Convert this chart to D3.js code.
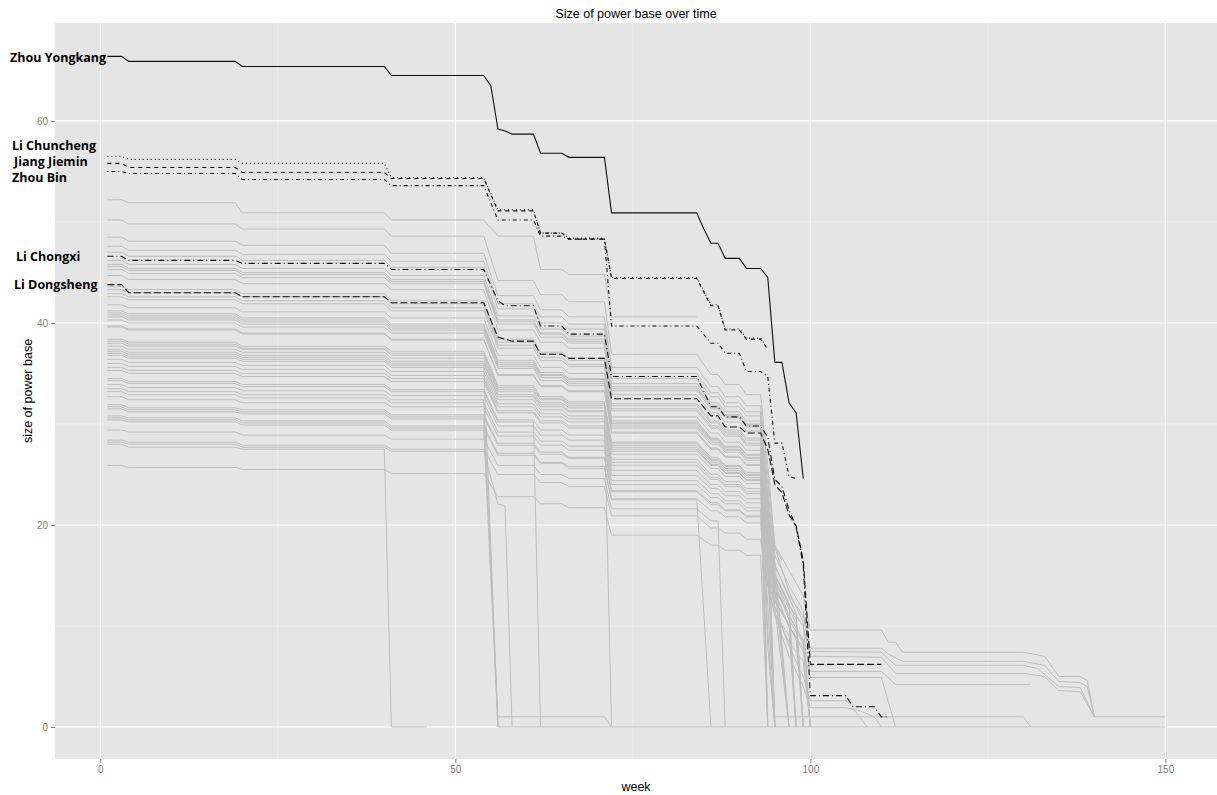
<!DOCTYPE html>
<html>
<head>
<meta charset="utf-8">
<script src="https://cdn.jsdelivr.net/npm/d3@7"></script>
<style>
  body { margin: 0; background: #fff; }
  svg text { font-family: "Liberation Sans", Arial, sans-serif; }
</style>
</head>
<body>
<div id="chart"></div>
<script>
// ---- data ----
const xTicks = [0, 50, 100, 150];
const yTicks = [0, 20, 40, 60];
const xMinor = [25, 75, 125];
const yMinor = [10, 30, 50];

// weeks of the flat stretches shared by most series
const plateauWeeks = [[1,3],[4,19],[20,40],[41,54],[56,61],[62,65],[66,71],[72,84],[86,87],[88,90],[91,93]];

// grey series: p = value on each plateau, t = [week, value] after the last plateau
const grayLines = [
  {p:[52.2,51.9,50.9,50.2,48.6,45.3,44.8,40.6], t:[]},
  {p:[50.2,49.8,49.3,48.6,44.2,42.8,42.1,36.9,34.9,33.9,32.9], t:[[94,26],[95,18],[97,15.5],[99,13],[100,9.6],[110,9.6],[111,8.4],[112,8.4],[113,7.4],[130,7.4],[133,7.0],[135,5.0],[138,5.0],[139,4.6],[140,1.0],[150,1.0]]},
  {p:[48.5,48.1,47.7,46.9,42.7,41.3,40.6,35.6,33.7,32.7,31.8], t:[[94,25],[95,17],[97,14],[99,11.5],[100,7.8],[110,7.8],[111,7.2],[113,6.5],[130,6.5],[133,6.1],[135,4.5],[138,4.4],[139,4.0],[140,1.0]]},
  {p:[47.6,47.2,46.8,46.1,41.9,40.6,39.9,35.0,33.1,32.1,31.2], t:[[94,0]]},
  {p:[47.0,46.6,46.2,45.5,41.4,40.0,39.4,34.5,32.7,31.7,30.8], t:[[94,24],[95,16],[97,13],[99,11],[100,7.5],[110,7.4],[112,6.1],[130,6.1],[132,5.8],[135,4.0],[138,3.9],[140,1.0]]},
  {p:[46.2,45.8,45.4,44.7,40.7,39.4,38.7,34.0,32.1,31.2,30.3], t:[[94,22.7],[95,0]]},
  {p:[45.8,45.4,45.0,44.3,40.3,39.0,38.4,33.7,31.8,30.9,30.0], t:[[94,23],[95,15],[97,12],[99,10],[100,7.0],[110,6.9],[112,5.3],[130,5.3],[133,5.0],[135,3.6],[138,3.5],[140,1.0]]},
  {p:[45.6,45.2,44.8,44.1,40.1,38.9,38.2,33.5,31.7,30.8,29.9], t:[[94,20.9],[95,16.4],[97,0]]},
  {p:[45.3,44.9,44.5,43.9,39.9,38.6,38.0,33.3,31.5,30.6,29.7], t:[[94,22.3],[95,17.8],[97,13.4],[99,10.4],[100,0]]},
  {p:[44.7,44.3,43.9,43.3,39.3,38.1,37.5,32.9,31.1,30.2,29.3], t:[[94,22],[95,14],[97,11],[99,8.5],[100,5.5],[110,5.5],[112,4.2],[131,4.2]]},
  {p:[43.6,43.3,42.9,42.2,38.4,37.1,36.5,32.0,30.3,29.4,28.6], t:[[94,21.5],[95,0]]},
  {p:[43.3,43.0,42.6,41.9,38.1,36.9,36.3,31.8,30.1,29.2,28.4], t:[[94,21],[95,13],[97,10],[99,7.5],[100,4.9],[110,4.9],[112,0]]},
  {p:[42.9,42.6,42.2,41.5,37.8,36.6,35.9,31.5,29.8,29.0,28.1], t:[[94,9.5],[95,0]]},
  {p:[42.6,42.3,41.9,41.2,37.5,36.3,35.7,31.3,29.6,28.8,27.9], t:[[94,20],[95,12],[97,8],[99,5],[100,2.6],[105,2.6],[106,1.9],[108,0]]},
  {p:[41.8,41.5,41.1,40.5,36.8,35.6,35.0,30.7,29.1,28.2,27.4], t:[[94,19.2],[95,15.1],[97,12.3],[98,0]]},
  {p:[41.2,40.9,40.5,39.9,36.3,35.1,34.5,30.3,28.6,27.8,27.0], t:[[94,19],[95,11],[97,7],[99,4],[100,1.9],[105,1.9],[107,1.6],[109,1.0],[110,0]]},
  {p:[41.0,40.7,40.3,39.7,36.1,34.9,34.4,30.1,28.5,27.7,26.9], t:[[94,18.8],[95,14.8],[97,0]]},
  {p:[40.8,40.5,40.1,39.5,35.9,34.8,34.2,30.0,28.4,27.5,26.7], t:[[94,0]]},
  {p:[40.6,40.3,39.9,39.3,35.7,34.6,34.0,29.8,28.2,27.4,26.6], t:[[94,20.0],[95,16.0],[97,12.8],[98,11.2],[99,0]]},
  {p:[40.3,40.0,39.6,39.0,35.5,34.3,33.8,29.6,28.0,27.2,26.4], t:[[94,12],[95,1.0],[130,1.0],[131,0]]},
  {p:[39.7,39.4,39.0,38.4,34.9,33.8,33.3,29.2,27.6,26.8,26.0], t:[[94,0]]},
  {p:[39.6,39.3,38.9,38.3,34.8,33.7,33.2,29.1,27.5,26.7,25.9], t:[[94,19.4],[95,0]]},
  {p:[38.4,38.1,37.7,37.2,33.8,32.7,32.2,28.2,26.7,25.9,25.2], t:[[94,18.9],[95,15.1],[97,12.1],[98,10.6],[99,0]]},
  {p:[38.2,37.9,37.5,37.0,33.6,32.5,32.0,28.1,26.5,25.8,25.0], t:[[94,19.0],[96,16.5]]},
  {p:[38.0,37.7,37.4,36.8,33.4,32.4,31.8,27.9,26.4,25.6,24.9], t:[[94,17.4],[95,13.7],[97,0]]},
  {p:[37.7,37.4,37.1,36.5,33.2,32.1,31.6,27.7,26.2,25.4,24.7], t:[[94,17.3],[95,13.6],[97,11.1],[98,0]]},
  {p:[37.4,37.1,36.8,36.2,32.9,31.9,31.3,27.5,26.0,25.2,24.5], t:[[94,18.4],[95,14.7],[97,11.0],[99,8.6],[100,0]]},
  {p:[37.2,36.9,36.6,36.0,32.7,31.7,31.2,27.3,25.9,25.1,24.4], t:[[94,18.3],[95,14.6],[97,11.7],[98,10.2],[99,0]]},
  {p:[37.0,36.7,36.4,35.8], t:[[56,0]]},
  {p:[36.8,36.5,36.2,35.6,32.4,31.4,30.8,27.0,25.6,24.8,24.1], t:[[94,8.0],[95,0]]},
  {p:[36.4,36.1,35.8,35.2,32.0,31.0,30.5], t:[[72,0]]},
  {p:[36.0,35.7,35.4,34.8,31.7,30.7,30.2,26.5,25.0,24.3,23.6], t:[[94,17.7],[95,14.2],[97,10.6],[99,8.3],[100,0]]},
  {p:[35.6,35.3,35.0,34.5,31.3,30.3,29.8,26.2,24.7,24.0,23.3], t:[[94,17.5],[95,0]]},
  {p:[35.3,35.0,34.7,34.2,31.1,30.1,29.6,25.9,24.5,23.8,23.1], t:[[94,17.3],[95,0]]},
  {p:[34.5,34.2,33.9,33.4,30.4,29.4,28.9,25.4,24.0,23.3,22.6], t:[[94,15.8],[95,12.4],[97,10.2],[98,0]]},
  {p:[34.3,34.0,33.7,33.2,30.2], t:[[62,0]]},
  {p:[33.9,33.6,33.3,32.8,29.8,28.9,28.4,24.9,23.6,22.9,22.2], t:[[94,16.7],[95,13.3],[97,10.0],[99,7.8],[100,0]]},
  {p:[33.5,33.2,32.9,32.4], t:[[56,0],[150,0]]},
  {p:[33.2,32.9,32.6,32.1,29.2,28.3,27.8,24.4,23.1,22.4,21.7], t:[[94,0]]},
  {p:[32.7,32.4,32.1,31.7,28.8,27.9,27.4,24.0,22.7,22.1,21.4], t:[[94,15.0],[95,11.8],[97,0]]},
  {p:[31.9,31.6,31.4,30.9,28.1,27.2,26.7,23.4,22.2,21.5,20.9], t:[[94,15.7],[95,0]]},
  {p:[31.7,31.4,31.2,30.7,27.9,27.0,26.6,23.3,22.0,21.4,20.8], t:[[94,15.6],[95,12.5],[97,10.0],[98,8.7],[99,0]]},
  {p:[31.5,31.2,31.0,30.5], t:[[56,1.0],[71,1.0],[72,0]]},
  {p:[30.8,30.6,30.3,29.8,27.1,26.2,25.8,22.6,21.4,20.8,20.2], t:[[94,14.1],[95,11.1],[97,9.1],[98,0]]},
  {p:[30.6,30.4,30.1,29.6,26.9,26.1,25.6,22.5], t:[[86,0]]},
  {p:[30.4,30.2,29.9,29.4], t:[[56,0]]},
  {p:[29.4,29.2,28.9,28.5,25.9,25.0,24.6,21.6,20.4], t:[[88,0]]},
  {p:[28.4,28.2,27.9,27.5,25.0,24.2,23.8,20.9,19.7,19.2,18.6], t:[[94,14.0],[95,11.2],[97,8.4],[99,6.5],[100,0]]},
  {p:[28.2,28.0,27.7,27.3], t:[[56,22.1],[57,21.9],[58,0]]},
  {p:[28.0,27.7,27.5], t:[[41,0],[46,0]]},
  {p:[25.9,25.7,25.5,25.1,22.8,22.1,21.7,19.0,18.0,17.5,17.0], t:[[94,0]]}
];

// highlighted officials, [week, size]
const zhouYongkang = [[1,66.4],[3,66.4],[4,65.9],[19,65.9],[20,65.4],[40,65.4],[41,64.5],[54,64.5],[55,63.5],[56,59.2],[57,59.0],[58,58.7],[61,58.7],[62,56.8],[65,56.8],[66,56.4],[71,56.4],[72,50.9],[84,50.9],[85,49.3],[86,47.9],[87,47.9],[88,46.4],[90,46.4],[91,45.4],[93,45.4],[94,44.5],[95,36.1],[96,36.1],[97,32.1],[98,31.1],[99,24.6]];
const liChuncheng = [[1,56.5],[3,56.5],[4,56.2],[19,56.2],[20,55.8],[40,55.8],[41,54.4],[54,54.4],[56,51.2],[61,51.2],[62,48.9],[65,48.9],[66,48.4],[71,48.4],[72,44.5],[84,44.5],[86,41.8],[87,41.8],[88,39.4],[90,39.4],[91,38.5],[93,38.5],[94,37.5]];
const jiangJiemin = [[1,55.8],[3,55.8],[4,55.4],[19,55.4],[20,54.9],[40,54.9],[41,54.3],[54,54.3],[56,51.1],[61,51.1],[62,48.9],[65,48.9],[66,48.3],[71,48.3],[72,44.4],[84,44.4],[86,41.7],[87,41.7],[88,39.3],[90,39.3],[91,38.4],[93,38.4],[94,37.4]];
const zhouBin = [[1,55.0],[3,55.0],[4,54.8],[19,54.8],[20,54.2],[40,54.2],[41,53.6],[54,53.6],[56,50.2],[61,50.2],[62,48.6],[65,48.6],[66,48.3],[71,48.3],[72,39.7],[84,39.7],[86,38.0],[87,38.0],[88,37.0],[90,37.0],[91,35.2],[93,35.2],[94,34.7],[95,28.1],[96,28.1],[97,24.8],[98,24.6]];
const liChongxi = [[1,46.6],[3,46.6],[4,46.2],[19,46.2],[20,45.9],[40,45.9],[41,45.3],[54,45.3],[56,42.2],[57,41.7],[61,41.7],[62,39.7],[65,39.7],[66,38.9],[71,38.9],[72,34.7],[84,34.7],[86,31.7],[87,31.7],[88,30.7],[90,30.7],[91,29.8],[93,29.8],[94,28.7],[95,24.5],[96,23.8],[97,21.5],[98,19.8],[99,16.0],[100,3.1],[105,3.1],[106,2.0],[109,2.0],[110,1.0],[111,1.0]];
const liDongsheng = [[1,43.8],[3,43.8],[4,43.0],[19,43.0],[20,42.6],[40,42.6],[41,42.0],[54,42.0],[56,38.6],[58,38.2],[61,38.2],[62,36.9],[65,36.9],[66,36.5],[71,36.5],[72,32.5],[84,32.5],[86,30.8],[87,30.8],[88,29.7],[90,29.7],[91,29.1],[93,29.1],[94,27.5],[95,24.0],[96,23.2],[97,21.0],[98,19.9],[99,16.5],[100,6.2],[110,6.2]];

const highlighted = [
  {name: "Zhou Yongkang", pts: zhouYongkang, dash: null},
  {name: "Li Chuncheng", pts: liChuncheng, dash: "1,3"},
  {name: "Jiang Jiemin", pts: jiangJiemin, dash: "4,4"},
  {name: "Zhou Bin", pts: zhouBin, dash: "1,3,4,3"},
  {name: "Li Chongxi", pts: liChongxi, dash: "6,3,1,3"},
  {name: "Li Dongsheng", pts: liDongsheng, dash: "7,3"}
];

// where the hand-placed names sit (pixel x, value y)
const labelSpots = [
  {name: "Zhou Yongkang", x: 10, v: 66.3},
  {name: "Li Chuncheng", x: 12, v: 57.6},
  {name: "Jiang Jiemin", x: 14, v: 56.0},
  {name: "Zhou Bin", x: 12, v: 54.4},
  {name: "Li Chongxi", x: 16, v: 46.6},
  {name: "Li Dongsheng", x: 14, v: 43.8}
];

// ---- chart ----
const width = 1217, height = 795;
const margin = {left: 55, right: 1217, top: 23, bottom: 759};

const svg = d3.select("#chart").append("svg")
    .attr("width", width)
    .attr("height", height);

const x = d3.scaleLinear().domain([-6.38, 157.27]).range([margin.left, margin.right]);
const y = d3.scaleLinear().domain([-3.17, 69.7]).range([margin.bottom, margin.top]);

svg.append("rect")
    .attr("x", margin.left).attr("y", margin.top)
    .attr("width", margin.right - margin.left)
    .attr("height", margin.bottom - margin.top)
    .attr("fill", "#E5E5E5");

// grid
const grid = svg.append("g");
grid.selectAll(".ymin").data(yMinor).join("line")
    .attr("x1", margin.left).attr("x2", margin.right)
    .attr("y1", d => y(d)).attr("y2", d => y(d))
    .attr("stroke", "#F2F2F2").attr("stroke-width", 0.7);
grid.selectAll(".xmin").data(xMinor).join("line")
    .attr("y1", margin.top).attr("y2", margin.bottom)
    .attr("x1", d => x(d)).attr("x2", d => x(d))
    .attr("stroke", "#F2F2F2").attr("stroke-width", 0.7);
grid.selectAll(".ymaj").data(yTicks).join("line")
    .attr("x1", margin.left).attr("x2", margin.right)
    .attr("y1", d => y(d)).attr("y2", d => y(d))
    .attr("stroke", "#fff").attr("stroke-width", 1.2);
grid.selectAll(".xmaj").data(xTicks).join("line")
    .attr("y1", margin.top).attr("y2", margin.bottom)
    .attr("x1", d => x(d)).attr("x2", d => x(d))
    .attr("stroke", "#fff").attr("stroke-width", 1.2);

// build point lists for grey series
function plateauPoints(s) {
    let pts = [];
    s.p.forEach((v, i) => {
        pts.push([plateauWeeks[i][0], v]);
        pts.push([plateauWeeks[i][1], v]);
    });
    return pts.concat(s.t);
}

const line = d3.line().x(d => x(d[0])).y(d => y(d[1]));

svg.append("g").selectAll("path")
    .data(grayLines.map(plateauPoints))
    .join("path")
        .attr("d", line)
        .attr("fill", "none")
        .attr("stroke", "#BEBEBE")
        .attr("stroke-width", 1);

svg.append("g").selectAll("path")
    .data(highlighted)
    .join("path")
        .attr("d", d => line(d.pts))
        .attr("fill", "none")
        .attr("stroke", "#111")
        .attr("stroke-width", 1.1)
        .attr("stroke-dasharray", d => d.dash);

// axes
const xAxis = svg.append("g")
    .attr("transform", "translate(0," + margin.bottom + ")")
    .call(d3.axisBottom(x).tickValues(xTicks).tickSize(4).tickPadding(3));
const yAxis = svg.append("g")
    .attr("transform", "translate(" + margin.left + ",0)")
    .call(d3.axisLeft(y).tickValues(yTicks).tickSize(4).tickPadding(3));
[xAxis, yAxis].forEach(a => {
    a.select(".domain").remove();
    a.selectAll("line").attr("stroke", "#7F7F7F");
    a.selectAll("text").attr("fill", "#7F7F7F")
        .style("font-size", "10px")
        .style("font-family", "'Liberation Sans', Arial, sans-serif");
});

// titles
svg.append("text")
    .attr("x", (margin.left + margin.right) / 2).attr("y", 18)
    .attr("text-anchor", "middle")
    .style("font-size", "12.5px")
    .text("Size of power base over time");
svg.append("text")
    .attr("x", (margin.left + margin.right) / 2).attr("y", 791)
    .attr("text-anchor", "middle")
    .style("font-size", "12.5px")
    .text("week");
svg.append("text")
    .attr("transform", "translate(32," + ((margin.top + margin.bottom) / 2) + ") rotate(-90)")
    .attr("text-anchor", "middle")
    .style("font-size", "12.5px")
    .text("size of power base");

// names
svg.append("g").selectAll("text")
    .data(labelSpots)
    .join("text")
        .attr("x", d => d.x)
        .attr("y", d => y(d.v))
        .attr("dy", "0.35em")
        .style("font-family", "'Open Sans', 'Noto Sans', sans-serif")
        .style("font-weight", "700")
        .style("font-size", "12.5px")
        .attr("fill", "#000")
        .text(d => d.name);
</script>
</body>
</html>
